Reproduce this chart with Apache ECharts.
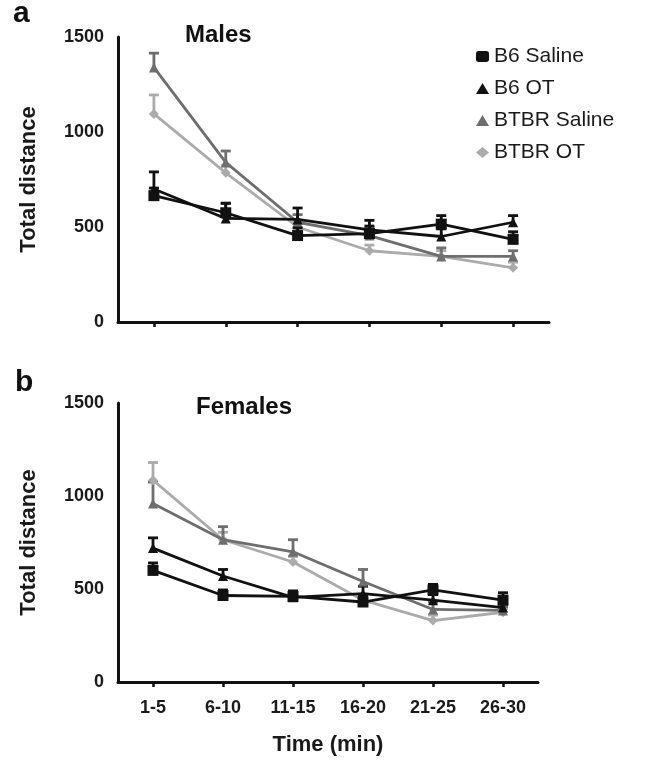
<!DOCTYPE html>
<html>
<head>
<meta charset="utf-8">
<script src="https://cdn.jsdelivr.net/npm/echarts@6/dist/echarts.min.js"></script>
<style>
  html, body { margin: 0; padding: 0; background: #fff; }
  #chart { width: 656px; height: 771px; }
</style>
</head>
<body>
<div id="chart"></div>
<script>
// 时间段
const times = ['1-5', '6-10', '11-15', '16-20', '21-25', '26-30']
const groups = ['B6 Saline', 'B6 OT', 'BTBR Saline', 'BTBR OT']
const yTicks = [0, 500, 1000, 1500]

// 雄性 均值 / 误差
const maleB6Saline = [665, 575, 455, 465, 515, 435]
const maleB6OT = [700, 545, 540, 485, 450, 525]
const maleBTBRSaline = [1340, 840, 525, 455, 345, 345]
const maleBTBROT = [1095, 785, 500, 375, 345, 285]
const maleB6SalineErr = [40, 50, 40, 40, 45, 40]
const maleB6OTErr = [90, 80, 60, 50, 40, 35]
const maleBTBRSalineErr = [75, 60, 40, 40, 45, 30]
const maleBTBROTErr = [100, 40, 30, 30, 30, 30]

// 雌性 均值 / 误差
const femaleB6Saline = [600, 465, 460, 430, 495, 440]
const femaleB6OT = [720, 570, 455, 475, 440, 400]
const femaleBTBRSaline = [960, 765, 700, 540, 390, 385]
const femaleBTBROT = [1085, 765, 645, 440, 330, 375]
const femaleB6SalineErr = [40, 30, 30, 30, 30, 40]
const femaleB6OTErr = [55, 35, 25, 40, 30, 20]
const femaleBTBRSalineErr = [115, 70, 65, 65, 40, 20]
const femaleBTBROTErr = [95, 40, 30, 30, 30, 20]

const colors = ['#111', '#111', '#6e6e6e', '#ababab']
const symbols = ['rect', 'triangle', 'triangle', 'diamond']
const font = 'Liberation Sans, Arial, sans-serif'

let chart = echarts.init(document.getElementById('chart'))

function lineSeries(name, data, idx, axisIdx) {
  return {
    name: name,
    type: 'line',
    xAxisIndex: axisIdx,
    yAxisIndex: axisIdx,
    data: data,
    symbol: symbols[idx],
    symbolSize: idx == 0 ? 11 : 10,
    color: colors[idx],
    lineStyle: { color: colors[idx], width: 2.8 },
    itemStyle: { color: colors[idx] },
    z: 3 + (3 - idx)
  }
}

// 只画向上的误差线
function errSeries(name, data, err, idx, axisIdx) {
  return {
    name: name,
    type: 'custom',
    xAxisIndex: axisIdx,
    yAxisIndex: axisIdx,
    data: data.map((v, i) => [i, v, v + err[i]]),
    renderItem: function(params, api) {
      let p0 = api.coord([api.value(0), api.value(1)])
      let p1 = api.coord([api.value(0), api.value(2)])
      let style = { stroke: colors[idx], lineWidth: 2.8 }
      return {
        type: 'group',
        children: [
          { type: 'line', shape: { x1: p0[0], y1: p0[1], x2: p1[0], y2: p1[1] }, style: style },
          { type: 'line', shape: { x1: p1[0] - 5, y1: p1[1], x2: p1[0] + 5, y2: p1[1] }, style: style }
        ]
      }
    },
    z: 2 + (3 - idx)
  }
}

function xAxis(gridIndex, showLabel) {
  return {
    type: 'category',
    gridIndex: gridIndex,
    data: times,
    boundaryGap: true,
    axisLine: { lineStyle: { color: '#111', width: 3 } },
    axisTick: { show: true, alignWithLabel: true, length: 5, lineStyle: { color: '#111', width: 2.5 } },
    axisLabel: {
      show: showLabel,
      color: '#1a1a1a',
      fontSize: 18,
      fontWeight: 'bold',
      fontFamily: font,
      margin: 17
    },
    name: showLabel ? 'Time (min)' : '',
    nameLocation: 'middle',
    nameGap: 52,
    nameTextStyle: { color: '#1a1a1a', fontSize: 22, fontWeight: 'bold', fontFamily: font }
  }
}

function yAxis(gridIndex) {
  return {
    type: 'value',
    gridIndex: gridIndex,
    min: yTicks[0],
    max: yTicks[yTicks.length - 1],
    interval: 500,
    splitLine: { show: false },
    axisLine: { show: true, lineStyle: { color: '#111', width: 3 } },
    axisTick: { show: false },
    axisLabel: {
      color: '#1a1a1a',
      fontSize: 18,
      fontWeight: 'bold',
      fontFamily: font,
      margin: 14,
      formatter: function(v) { return String(v) }
    },
    name: 'Total distance',
    nameLocation: 'middle',
    nameGap: 78,
    nameTextStyle: { color: '#1a1a1a', fontSize: 22, fontWeight: 'bold', fontFamily: font }
  }
}

let maleData = [maleB6Saline, maleB6OT, maleBTBRSaline, maleBTBROT]
let maleErr = [maleB6SalineErr, maleB6OTErr, maleBTBRSalineErr, maleBTBROTErr]
let femaleData = [femaleB6Saline, femaleB6OT, femaleBTBRSaline, femaleBTBROT]
let femaleErr = [femaleB6SalineErr, femaleB6OTErr, femaleBTBRSalineErr, femaleBTBROTErr]

let series = []
groups.forEach(function(name, i) {
  series.push(errSeries(name, maleData[i], maleErr[i], i, 0))
  series.push(lineSeries(name, maleData[i], i, 0))
  series.push(errSeries(name, femaleData[i], femaleErr[i], i, 1))
  series.push(lineSeries(name, femaleData[i], i, 1))
})

let option = {
  backgroundColor: '#fff',
  animation: false,
  title: [
    { text: 'a', left: 8, top: -6, textStyle: { fontSize: 30, fontWeight: 'bold', color: '#111', fontFamily: font } },
    { text: 'Males', left: 180, top: 18, textStyle: { fontSize: 24, fontWeight: 'bold', color: '#111', fontFamily: font } },
    { text: 'b', left: 10, top: 363, textStyle: { fontSize: 30, fontWeight: 'bold', color: '#111', fontFamily: font } },
    { text: 'Females', left: 191, top: 390, textStyle: { fontSize: 24, fontWeight: 'bold', color: '#111', fontFamily: font } }
  ],
  legend: {
    orient: 'vertical',
    left: 471,
    top: 41,
    itemGap: 11,
    itemWidth: 13,
    itemHeight: 11,
    textStyle: { fontSize: 21, color: '#1a1a1a', fontFamily: font },
    data: groups.map((g, i) => ({ name: g, icon: symbols[i] == 'rect' ? 'roundRect' : symbols[i], itemStyle: { color: colors[i] } }))
  },
  grid: [
    { left: 118, top: 37, width: 431, height: 285 },
    { left: 118, top: 403, width: 420, height: 279 }
  ],
  xAxis: [xAxis(0, false), xAxis(1, true)],
  yAxis: [yAxis(0), yAxis(1)],
  series: series
}

chart.setOption(option)
</script>
</body>
</html>
